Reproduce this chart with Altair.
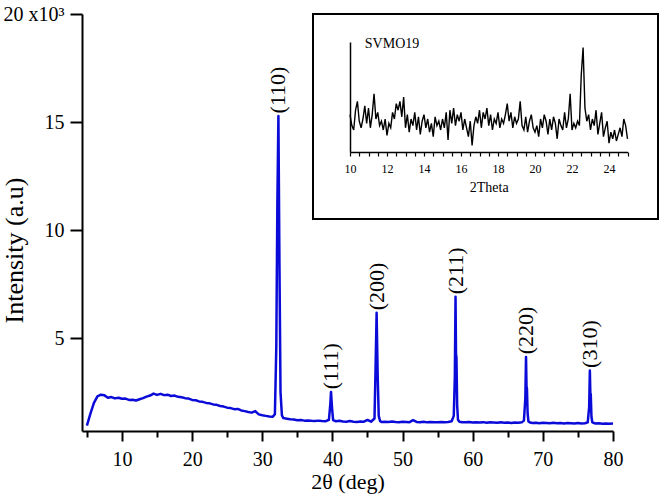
import altair as alt
import pandas as pd

FONT = "Liberation Serif"

# ---------------- main XRD pattern (2theta in deg, intensity in 10^3 counts) -------------
two_theta = [
    5.0, 5.5, 6.0, 6.5, 7.0, 7.5, 8.0, 8.5, 9.0, 9.5,
    10.0, 10.5, 11.0, 11.5, 12.0, 12.5, 13.0, 13.5, 14.0, 14.5,
    15.0, 15.5, 16.0, 16.5, 17.0, 17.5, 18.0, 18.5, 19.0, 19.5,
    20.0, 20.5, 21.0, 21.5, 22.0, 22.5, 23.0, 23.5, 24.0, 24.5,
    25.0, 25.5, 26.0, 26.5, 27.0, 27.5, 28.0, 28.5, 29.0, 29.5,
    30.0, 30.5, 31.0, 31.5, 31.8, 32.0, 32.15, 32.3, 32.45, 32.6,
    32.8, 33.0, 33.5, 34.0, 34.5, 35.0, 35.5, 36.0, 36.5, 37.0,
    37.5, 38.0, 38.5, 39.0, 39.5, 39.7, 39.8, 39.95, 40.1, 40.5,
    41.0, 41.5, 42.0, 42.5, 43.0, 43.5, 44.0, 44.5, 45.0, 45.5,
    46.0, 46.15, 46.3, 46.45, 46.6, 46.8, 47.0, 47.5, 48.0, 48.5,
    49.0, 49.5, 50.0, 50.5, 51.0, 51.5, 52.0, 52.5, 53.0, 53.5,
    54.0, 54.5, 55.0, 55.5, 56.0, 56.5, 57.0, 57.3, 57.45, 57.55,
    57.62, 57.68, 57.78, 57.9, 58.1, 58.5, 59.0, 59.5, 60.0, 60.5,
    61.0, 61.5, 62.0, 62.5, 63.0, 63.5, 64.0, 64.5, 65.0, 65.5,
    66.0, 66.5, 67.0, 67.3, 67.5, 67.6, 67.67, 67.73, 67.83, 67.95,
    68.2, 68.5, 69.0, 69.5, 70.0, 70.5, 71.0, 71.5, 72.0, 72.5,
    73.0, 73.5, 74.0, 74.5, 75.0, 75.5, 76.0, 76.4, 76.6, 76.7,
    76.77, 76.83, 76.93, 77.05, 77.3, 77.5, 78.0, 78.5, 79.0, 79.5,
    80.0,
]
intensity_k = [
    0.95, 1.5, 2.0, 2.3, 2.38, 2.35, 2.24, 2.27, 2.21, 2.24,
    2.19, 2.2, 2.14, 2.15, 2.11, 2.17, 2.22, 2.29, 2.34, 2.43,
    2.37, 2.42, 2.36, 2.38, 2.32, 2.34, 2.28, 2.26, 2.22, 2.2,
    2.14, 2.12, 2.07, 2.05, 2.0, 1.98, 1.93, 1.91, 1.86, 1.83,
    1.78, 1.76, 1.71, 1.72, 1.65, 1.62, 1.58, 1.55, 1.62, 1.47,
    1.43, 1.4, 1.37, 1.36, 1.48, 4.6, 11.2, 15.28, 8.4, 2.5,
    1.42, 1.3, 1.27, 1.24, 1.23, 1.2, 1.21, 1.18, 1.19, 1.17,
    1.16, 1.18, 1.16, 1.15, 1.22, 1.95, 2.51, 1.75, 1.2, 1.15,
    1.17, 1.14, 1.13, 1.16, 1.13, 1.12, 1.14, 1.13, 1.21, 1.13,
    1.28, 3.6, 6.17, 3.3, 1.4, 1.16, 1.12, 1.13, 1.12, 1.14,
    1.12, 1.11, 1.13, 1.12, 1.11, 1.2, 1.12, 1.11, 1.13, 1.1,
    1.12, 1.11, 1.1, 1.12, 1.11, 1.12, 1.15, 1.4, 3.2, 6.91,
    4.25, 4.13, 1.9, 1.22, 1.13, 1.11, 1.1, 1.12, 1.09, 1.1,
    1.09, 1.11, 1.08, 1.1, 1.09, 1.08, 1.1, 1.08, 1.09, 1.07,
    1.09, 1.08, 1.1, 1.18, 2.2, 4.13, 2.75, 2.68, 1.5, 1.14,
    1.09, 1.07, 1.08, 1.06, 1.08, 1.07, 1.06, 1.08, 1.06, 1.07,
    1.05, 1.07, 1.06, 1.05, 1.07, 1.05, 1.06, 1.1, 1.8, 3.5,
    2.45, 2.4, 1.35, 1.1, 1.07, 1.05, 1.06, 1.04, 1.05, 1.04,
    1.05,
]

peak_labels = ["(110)", "(111)", "(200)", "(211)", "(220)", "(310)"]
peak_theta = [32.3, 39.8, 46.3, 57.55, 67.6, 76.7]
peak_top_k = [15.28, 2.51, 6.17, 6.91, 4.13, 3.5]

x_ticks = [5, 10, 15, 20, 25, 30, 35, 40, 45, 50, 55, 60, 65, 70, 75, 80]
y_ticks = [5, 10, 15, 20]

# ---------------- inset (SVMO19, 10-25 deg, arbitrary counts) ----------------
inset_start = 10.0
inset_step = 0.1
inset_counts = [
    34, 24, 20, 38, 46, 28, 22, 30, 42, 26,
    40, 22, 34, 53, 30, 36, 24, 28, 20, 30,
    15, 26, 22, 36, 30, 44, 38, 46, 32, 50,
    22, 34, 18, 30, 24, 36, 20, 32, 16, 28,
    34, 22, 30, 18, 26, 14, 32, 24, 28, 20,
    30, 22, 36, 11, 38, 26, 40, 24, 34, 28,
    36, 20, 30, 22, 14, 28, 6, 24, 32, 26,
    38, 22, 36, 30, 40, 24, 34, 20, 30, 26,
    36, 22, 30, 26, 34, 44, 28, 36, 22, 32,
    26, 30, 46, 24, 20, 32, 18, 28, 34, 22,
    18, 24, 14, 30, 22, 34, 28, 16, 30, 20,
    32, 26, 12, 30, 24, 20, 36, 22, 30, 53,
    20, 26, 22, 28, 24, 70, 95, 40, 28, 34,
    20, 30, 24, 38, 16, 26, 36, 14, 22, 28,
    8, 18, 12, 20, 10, 16, 22, 14, 30, 24,
    12,
]
inset_theta = [round(inset_start + i * inset_step, 2) for i in range(len(inset_counts))]
inset_ticks = [round(10 + 0.5 * i, 1) for i in range(31)]
inset_name = "SVMO19"

# ---------------- layout (pixels, plot-area coordinates) ----------------
W, H = 531, 417
PAD = {"left": 82, "top": 14, "right": 48, "bottom": 69}

main_df = pd.DataFrame({"t": two_theta, "i": intensity_k})
lab_df = pd.DataFrame({"label": peak_labels, "t": peak_theta,
                       "i": [p + 0.12 for p in peak_top_k]})
inset_df = pd.DataFrame({"t": inset_theta, "c": inset_counts})
name_df = pd.DataFrame({"t": [10.8], "c": [98], "name": [inset_name]})

xs = alt.Scale(domain=[4.3, 80], nice=False, zero=False)
ys = alt.Scale(domain=[0.7, 20], nice=False, zero=False)

x_axis = alt.Axis(
    orient="bottom", values=x_ticks, grid=False,
    tickSize={"condition": {"test": "datum.value % 10 === 0", "value": 10}, "value": 6},
    tickWidth=2, tickColor="black", domainColor="black", domainWidth=2,
    labelExpr="datum.value % 10 === 0 ? datum.label : ''",
    labelFont=FONT, labelFontSize=20, labelColor="black", labelPadding=8,
    labelFlush=False, labelOverlap=False,
    title="2θ (deg)", titleFont=FONT, titleFontSize=22, titleFontWeight="normal",
    titleColor="black", titleBaseline="top", titleY=40,
)
y_axis = alt.Axis(
    orient="left", values=y_ticks, grid=False, tickSize=12, tickWidth=2,
    tickColor="black", domainColor="black", domainWidth=2,
    labelExpr="datum.value === 20 ? '20 x10³' : datum.label",
    labelFont=FONT, labelFontSize=20, labelColor="black", labelPadding=6,
    labelFlush=False, labelOverlap=False,
    title="Intensity (a.u)", titleFont=FONT, titleFontSize=26, titleFontWeight="normal",
    titleColor="black", titleAngle=270, titleBaseline="top", titleAlign="center",
    titleX=-81, titleY=236,
)

main_line = alt.Chart(main_df).mark_line(
    color="#0b0bd9", strokeWidth=2.5, strokeJoin="round", clip=False
).encode(
    x=alt.X("t:Q", scale=xs, axis=x_axis),
    y=alt.Y("i:Q", scale=ys, axis=y_axis),
)

peak_text = alt.Chart(lab_df).mark_text(
    angle=270, align="left", baseline="middle", font=FONT, fontSize=22, color="black"
).encode(
    x=alt.X("t:Q", scale=xs, axis=x_axis),
    y=alt.Y("i:Q", scale=ys, axis=y_axis),
    text="label:N",
)

main_layer = alt.layer(main_line, peak_text)

# inset
ixs = alt.Scale(domain=[10, 25], range=[268, 545.5], nice=False, zero=False)
iys = alt.Scale(domain=[0, 100], range=[138, 28], nice=False, zero=False)

ix_axis = alt.Axis(
    orient="bottom", offset=-(H - 138), values=inset_ticks, grid=False, zindex=2,
    tickSize=4, tickWidth=1.2, tickColor="black", domainColor="black", domainWidth=1.5,
    labelExpr="datum.value % 2 === 0 && datum.value < 25 ? format(datum.value, 'd') : ''",
    labelFont=FONT, labelFontSize=12, labelColor="black", labelPadding=7,
    labelFlush=False, labelOverlap=False,
    title="2Theta", titleFont=FONT, titleFontSize=14, titleFontWeight="normal",
    titleColor="black", titlePadding=6,
)
iy_axis = alt.Axis(
    orient="left", offset=-268, ticks=False, labels=False, grid=False, zindex=2,
    domainColor="black", domainWidth=1.5, title=None,
)

inset_box = alt.Chart(name_df).mark_rect(
    fill="white", stroke="black", strokeWidth=2
).encode(
    x=alt.value(231), x2=alt.value(576), y=alt.value(0), y2=alt.value(205)
)

inset_line = alt.Chart(inset_df).mark_line(color="black", strokeWidth=1.4).encode(
    x=alt.X("t:Q", scale=ixs, axis=ix_axis),
    y=alt.Y("c:Q", scale=iys, axis=iy_axis),
)

inset_label = alt.Chart(name_df).mark_text(
    align="left", baseline="middle", font=FONT, fontSize=14, color="black"
).encode(
    x=alt.X("t:Q", scale=ixs, axis=ix_axis),
    y=alt.Y("c:Q", scale=iys, axis=iy_axis),
    text="name:N",
)

inset_layer = alt.layer(inset_box, inset_line, inset_label)

chart = alt.layer(main_layer, inset_layer).resolve_scale(
    x="independent", y="independent"
).resolve_axis(x="independent", y="independent").properties(
    width=W, height=H, padding=PAD, autosize=alt.AutoSizeParams(type="none"),
    background="white",
).configure_view(strokeWidth=0)

chart.save("out.html", embed_options={"renderer": "svg", "actions": False})
